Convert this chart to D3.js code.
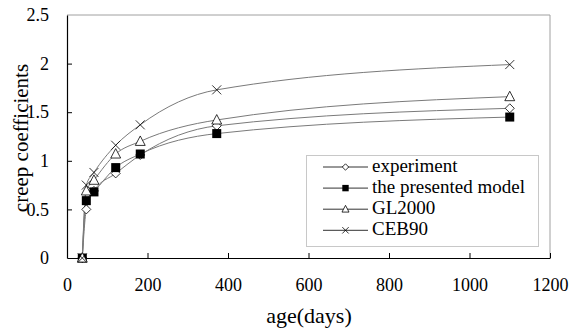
<!DOCTYPE html>
<html>
<head>
<meta charset="utf-8">
<script src="https://cdn.jsdelivr.net/npm/d3@7"></script>
<style>
  body { margin: 0; background: #fff; }
  text { font-family: "Liberation Serif", "Times New Roman", serif; fill: #000; }
</style>
</head>
<body>
<div class="chart"></div>
<script>
// ==================================
// data
var ages = [38, 48, 67, 121, 182, 372, 1100];
var experiment = [0.0, 0.50, 0.69, 0.87, 1.06, 1.36, 1.54];
var presented = [0.0, 0.59, 0.68, 0.93, 1.07, 1.28, 1.45];
var gl2000 = [0.0, 0.69, 0.80, 1.07, 1.20, 1.42, 1.66];
var ceb90 = [0.0, 0.75, 0.88, 1.16, 1.37, 1.73, 1.99];
var seriesNames = ["experiment", "the presented model", "GL2000", "CEB90"];
var xTicks = [0, 200, 400, 600, 800, 1000, 1200];
var yTicks = [0, 0.5, 1, 1.5, 2, 2.5];

// ==================================
var w = 569;
var h = 333;
var plotLeft = 67, plotRight = 550, plotTop = 15, plotBottom = 258;

var svg = d3.select(".chart")
    .append("svg")
    .attr("width", w)
    .attr("height", h);

var x = d3.scaleLinear().domain([0, 1200]).range([plotLeft, plotRight]);
var y = d3.scaleLinear().domain([0, 2.5]).range([plotBottom, plotTop]);

// top and right frame (gray)
svg.append("path")
    .attr("d", "M" + plotLeft + "," + plotTop + "H" + plotRight + "V" + plotBottom)
    .attr("fill", "none")
    .attr("stroke", "#a0a0a0")
    .attr("stroke-width", 1);

// axes with inside ticks
var xAxis = svg.append("g")
    .attr("transform", "translate(0," + plotBottom + ")")
    .call(d3.axisBottom(x).tickValues(xTicks).tickSizeInner(-5).tickSizeOuter(0).tickPadding(20)
        .tickFormat(function(d) { return d; }));
var yAxis = svg.append("g")
    .attr("transform", "translate(" + plotLeft + ",0)")
    .call(d3.axisLeft(y).tickValues(yTicks).tickSizeInner(-5).tickSizeOuter(0).tickPadding(18)
        .tickFormat(function(d) { return d; }));

[xAxis, yAxis].forEach(function(a) {
    a.select(".domain").attr("stroke", "#000").attr("stroke-width", 1.2);
    a.selectAll(".tick line").attr("stroke", "#000");
    a.selectAll(".tick text")
        .style("font-family", "Liberation Serif")
        .style("font-size", "18px")
        .attr("fill", "#000");
});
yAxis.selectAll(".tick line").filter(function(d) { return d === 0 || d === 2.5; }).remove();
xAxis.selectAll(".tick line").filter(function(d) { return d === 0; }).remove();

// axis titles
svg.append("text")
    .attr("x", 309)
    .attr("y", 323)
    .attr("text-anchor", "middle")
    .style("font-size", "22px")
    .text("age(days)");
svg.append("text")
    .attr("transform", "translate(28,138) rotate(-90)")
    .attr("text-anchor", "middle")
    .style("font-size", "21px")
    .text("creep coefficients");

// series
var allSeries = [experiment, presented, gl2000, ceb90];
var markerKinds = ["diamond", "square", "triangle", "cross"];

var line = d3.line()
    .x(function(d, i) { return x(ages[i]); })
    .y(function(d) { return y(d); })
    .curve(d3.curveMonotoneX);

var drawMarker = function(g, kind, cx, cy, r) {
    if (kind === "diamond") {
        g.append("path")
            .attr("d", "M" + cx + "," + (cy - r) + "L" + (cx + r) + "," + cy + "L" + cx + "," + (cy + r) + "L" + (cx - r) + "," + cy + "Z")
            .attr("fill", "#fff").attr("stroke", "#000").attr("stroke-width", 0.8);
    } else if (kind === "square") {
        g.append("rect")
            .attr("x", cx - r).attr("y", cy - r)
            .attr("width", 2 * r).attr("height", 2 * r)
            .attr("fill", "#000");
    } else if (kind === "triangle") {
        g.append("path")
            .attr("d", "M" + cx + "," + (cy - r * 1.2) + "L" + (cx + r * 1.1) + "," + (cy + r * 0.9) + "L" + (cx - r * 1.1) + "," + (cy + r * 0.9) + "Z")
            .attr("fill", "#fff").attr("stroke", "#000").attr("stroke-width", 0.8);
    } else {
        g.append("path")
            .attr("d", "M" + (cx - r) + "," + (cy - r) + "L" + (cx + r) + "," + (cy + r) + "M" + (cx + r) + "," + (cy - r) + "L" + (cx - r) + "," + (cy + r))
            .attr("stroke", "#000").attr("stroke-width", 0.8);
    }
};

allSeries.forEach(function(values) {
    svg.append("path")
        .datum(values)
        .attr("d", line)
        .attr("fill", "none")
        .attr("stroke", "#7a7a7a")
        .attr("stroke-width", 1);
});

allSeries.forEach(function(values, s) {
    var g = svg.append("g");
    values.forEach(function(v, i) {
        drawMarker(g, markerKinds[s], x(ages[i]), y(v), 4.5);
    });
});

// legend
var legend = svg.append("g");
legend.append("rect")
    .attr("x", 306.5).attr("y", 155.5)
    .attr("width", 232).attr("height", 91)
    .attr("fill", "#fff")
    .attr("stroke", "#c8c8c8");

seriesNames.forEach(function(name, i) {
    var ly = 167 + i * 21.1;
    legend.append("line")
        .attr("x1", 323).attr("x2", 368)
        .attr("y1", ly).attr("y2", ly)
        .attr("stroke", "#333").attr("stroke-width", 1);
    drawMarker(legend, markerKinds[i], 345.5, ly, 3.2);
    legend.append("text")
        .attr("x", 372)
        .attr("y", ly + 5)
        .style("font-size", "19px")
        .text(name);
});
</script>
</body>
</html>
